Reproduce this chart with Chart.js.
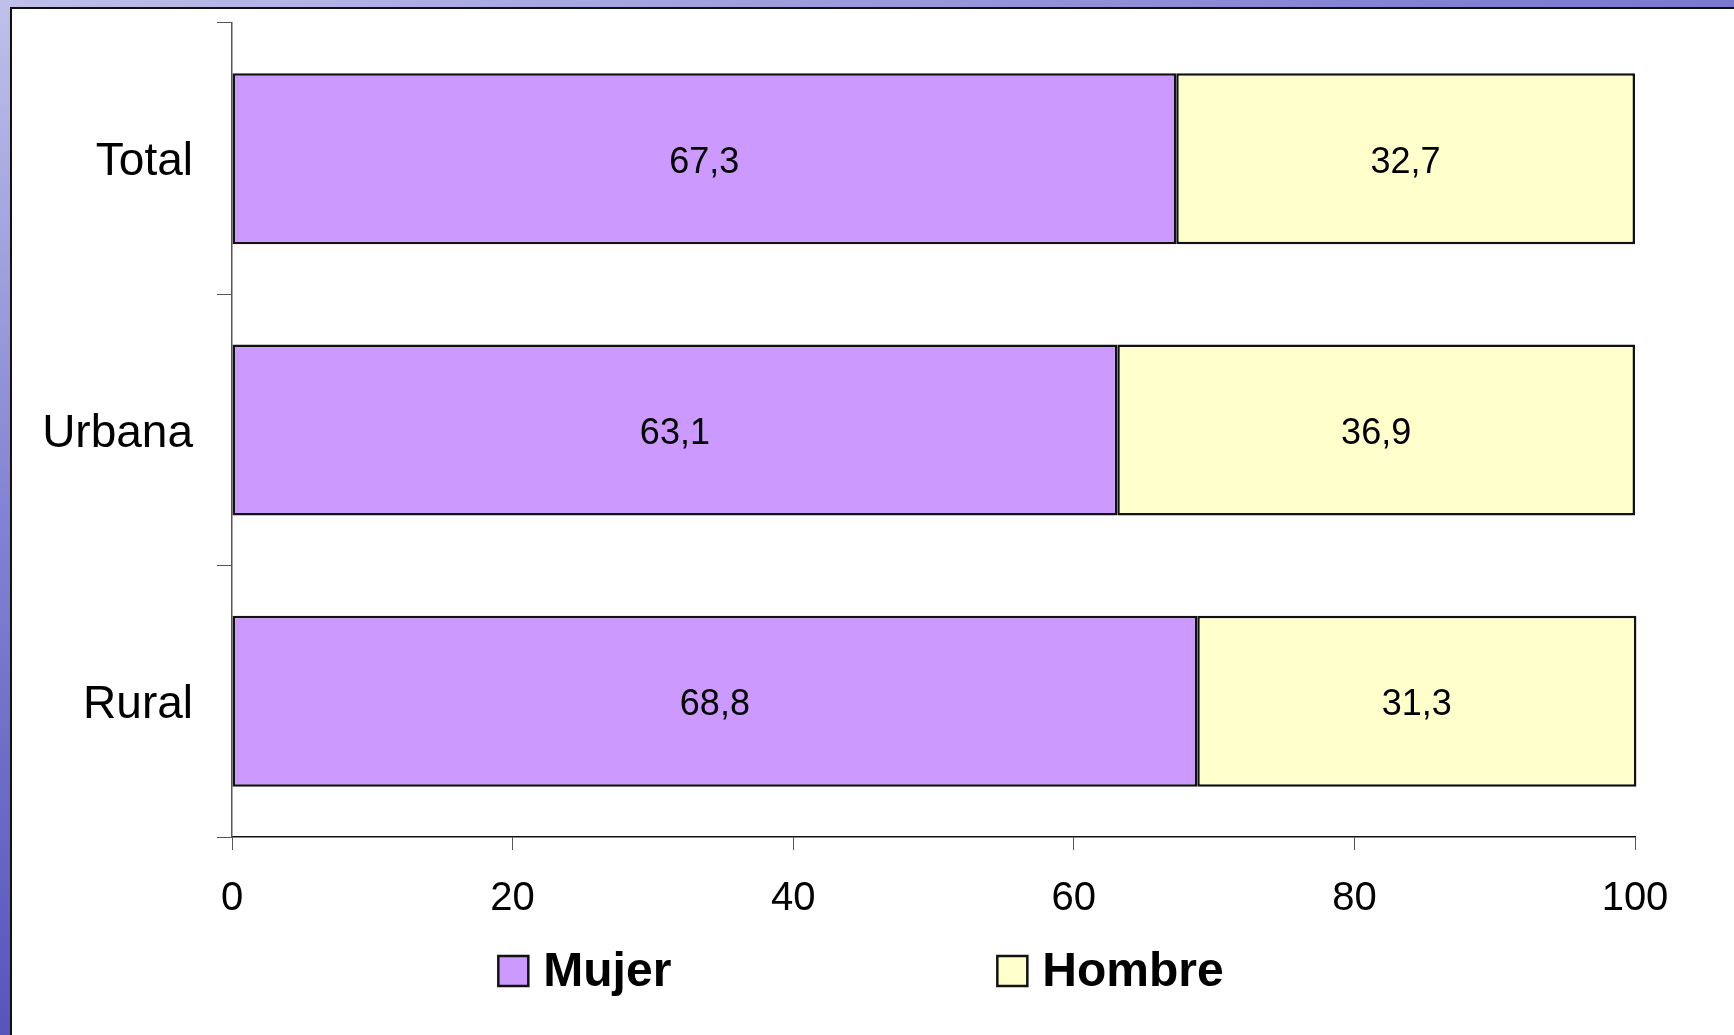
<!DOCTYPE html>
<html>
<head>
<meta charset="utf-8">
<script src="https://cdn.jsdelivr.net/npm/chart.js@4.4.1/dist/chart.umd.min.js"></script>
<style>
  html, body { margin: 0; padding: 0; }
  body {
    width: 1734px; height: 1035px; overflow: hidden; position: relative;
    background: linear-gradient(160deg, #c0c0ea 0%, #8484d4 30%, #4a4ab8 70%, #3434a8 100%);
  }
  #panel {
    position: absolute; left: 10px; top: 7px; right: 0; bottom: 0;
    background: #fff; border-left: 2px solid #111; border-top: 2px solid #111;
  }
  #myChart { position: absolute; left: 0; top: 0; }
</style>
</head>
<body>
<div id="panel"></div>
<canvas id="myChart" width="1734" height="1035"></canvas>
<script>
var categories = ['Total', 'Urbana', 'Rural'];
var mujer = [67.3, 63.1, 68.8];
var hombre = [32.7, 36.9, 31.3];
var seriesNames = ['Mujer', 'Hombre'];
var seriesColors = ['#CC99FF', '#FFFFCC'];

var fontFamily = '"Liberation Sans", Arial, sans-serif';

// values printed in the middle of each bar piece
var barLabels = {
  id: 'barLabels',
  afterDatasetsDraw: function (chart) {
    var ctx = chart.ctx;
    ctx.save();
    ctx.font = '36px ' + fontFamily;
    ctx.fillStyle = '#000';
    ctx.textAlign = 'center';
    ctx.textBaseline = 'middle';
    chart.data.datasets.forEach(function (ds, i) {
      chart.getDatasetMeta(i).data.forEach(function (bar, j) {
        var p = bar.getProps(['x', 'y', 'base'], true);
        var txt = ds.data[j].toFixed(1).replace('.', ',');
        ctx.fillText(txt, (p.x + p.base) / 2, p.y + 4);
      });
    });
    ctx.restore();
  }
};

// legend drawn by hand, the built-in one can't space items this wide
var wideLegend = {
  id: 'wideLegend',
  afterDraw: function (chart) {
    var ctx = chart.ctx;
    var box = 30, gap = 15, itemGap = 326;
    ctx.save();
    ctx.font = 'bold 48px ' + fontFamily;
    var widths = seriesNames.map(function (n) { return ctx.measureText(n).width; });
    var total = 0;
    widths.forEach(function (w, i) { total += box + gap + w + (i ? itemGap : 0); });
    var x = chart.width / 2 - total / 2 - 6;
    var y = chart.scales.x.bottom + 53;
    seriesNames.forEach(function (n, i) {
      ctx.fillStyle = seriesColors[i];
      ctx.fillRect(x, y - box / 2, box, box);
      ctx.lineWidth = 2.5;
      ctx.strokeStyle = '#111';
      ctx.strokeRect(x, y - box / 2, box, box);
      ctx.fillStyle = '#000';
      ctx.textAlign = 'left';
      ctx.textBaseline = 'middle';
      ctx.fillText(n, x + box + gap, y + 2);
      x += box + gap + widths[i] + itemGap;
    });
    ctx.restore();
  }
};

var ctx = document.getElementById('myChart').getContext('2d');
var myChart = new Chart(ctx, {
  type: 'bar',
  data: {
    labels: categories,
    datasets: [{
      label: seriesNames[0],
      data: mujer,
      backgroundColor: seriesColors[0],
      borderColor: '#111',
      borderWidth: 2.5,
      borderSkipped: false,
      clip: false
    }, {
      label: seriesNames[1],
      data: hombre,
      backgroundColor: seriesColors[1],
      borderColor: '#111',
      borderWidth: 2.5,
      borderSkipped: false,
      clip: false
    }]
  },
  options: {
    indexAxis: 'y',
    responsive: false,
    animation: false,
    devicePixelRatio: 1,
    barPercentage: 0.63,
    categoryPercentage: 1,
    layout: { padding: { left: 0, right: 99, top: 23, bottom: 117 } },
    scales: {
      x: {
        stacked: true,
        min: 0,
        max: 100,
        ticks: { stepSize: 20, color: '#000', padding: 25, font: { family: fontFamily, size: 40 } },
        grid: { drawOnChartArea: false, drawTicks: true, tickLength: 13, color: '#555' },
        border: { color: '#111', width: 1.5 },
        afterFit: function (s) { s.height = 81; s.paddingLeft = 0; s.paddingRight = 0; }
      },
      y: {
        stacked: true,
        ticks: { color: '#000', padding: 24, labelOffset: 4, font: { family: fontFamily, size: 46 } },
        grid: { drawOnChartArea: false, drawTicks: true, tickLength: 15, color: '#555' },
        border: { color: '#555', width: 1.5 },
        afterFit: function (s) { s.width = 232; s.paddingTop = 0; s.paddingBottom = 0; }
      }
    },
    plugins: {
      legend: { display: false },
      tooltip: { enabled: false }
    }
  },
  plugins: [barLabels, wideLegend]
});
</script>
</body>
</html>
